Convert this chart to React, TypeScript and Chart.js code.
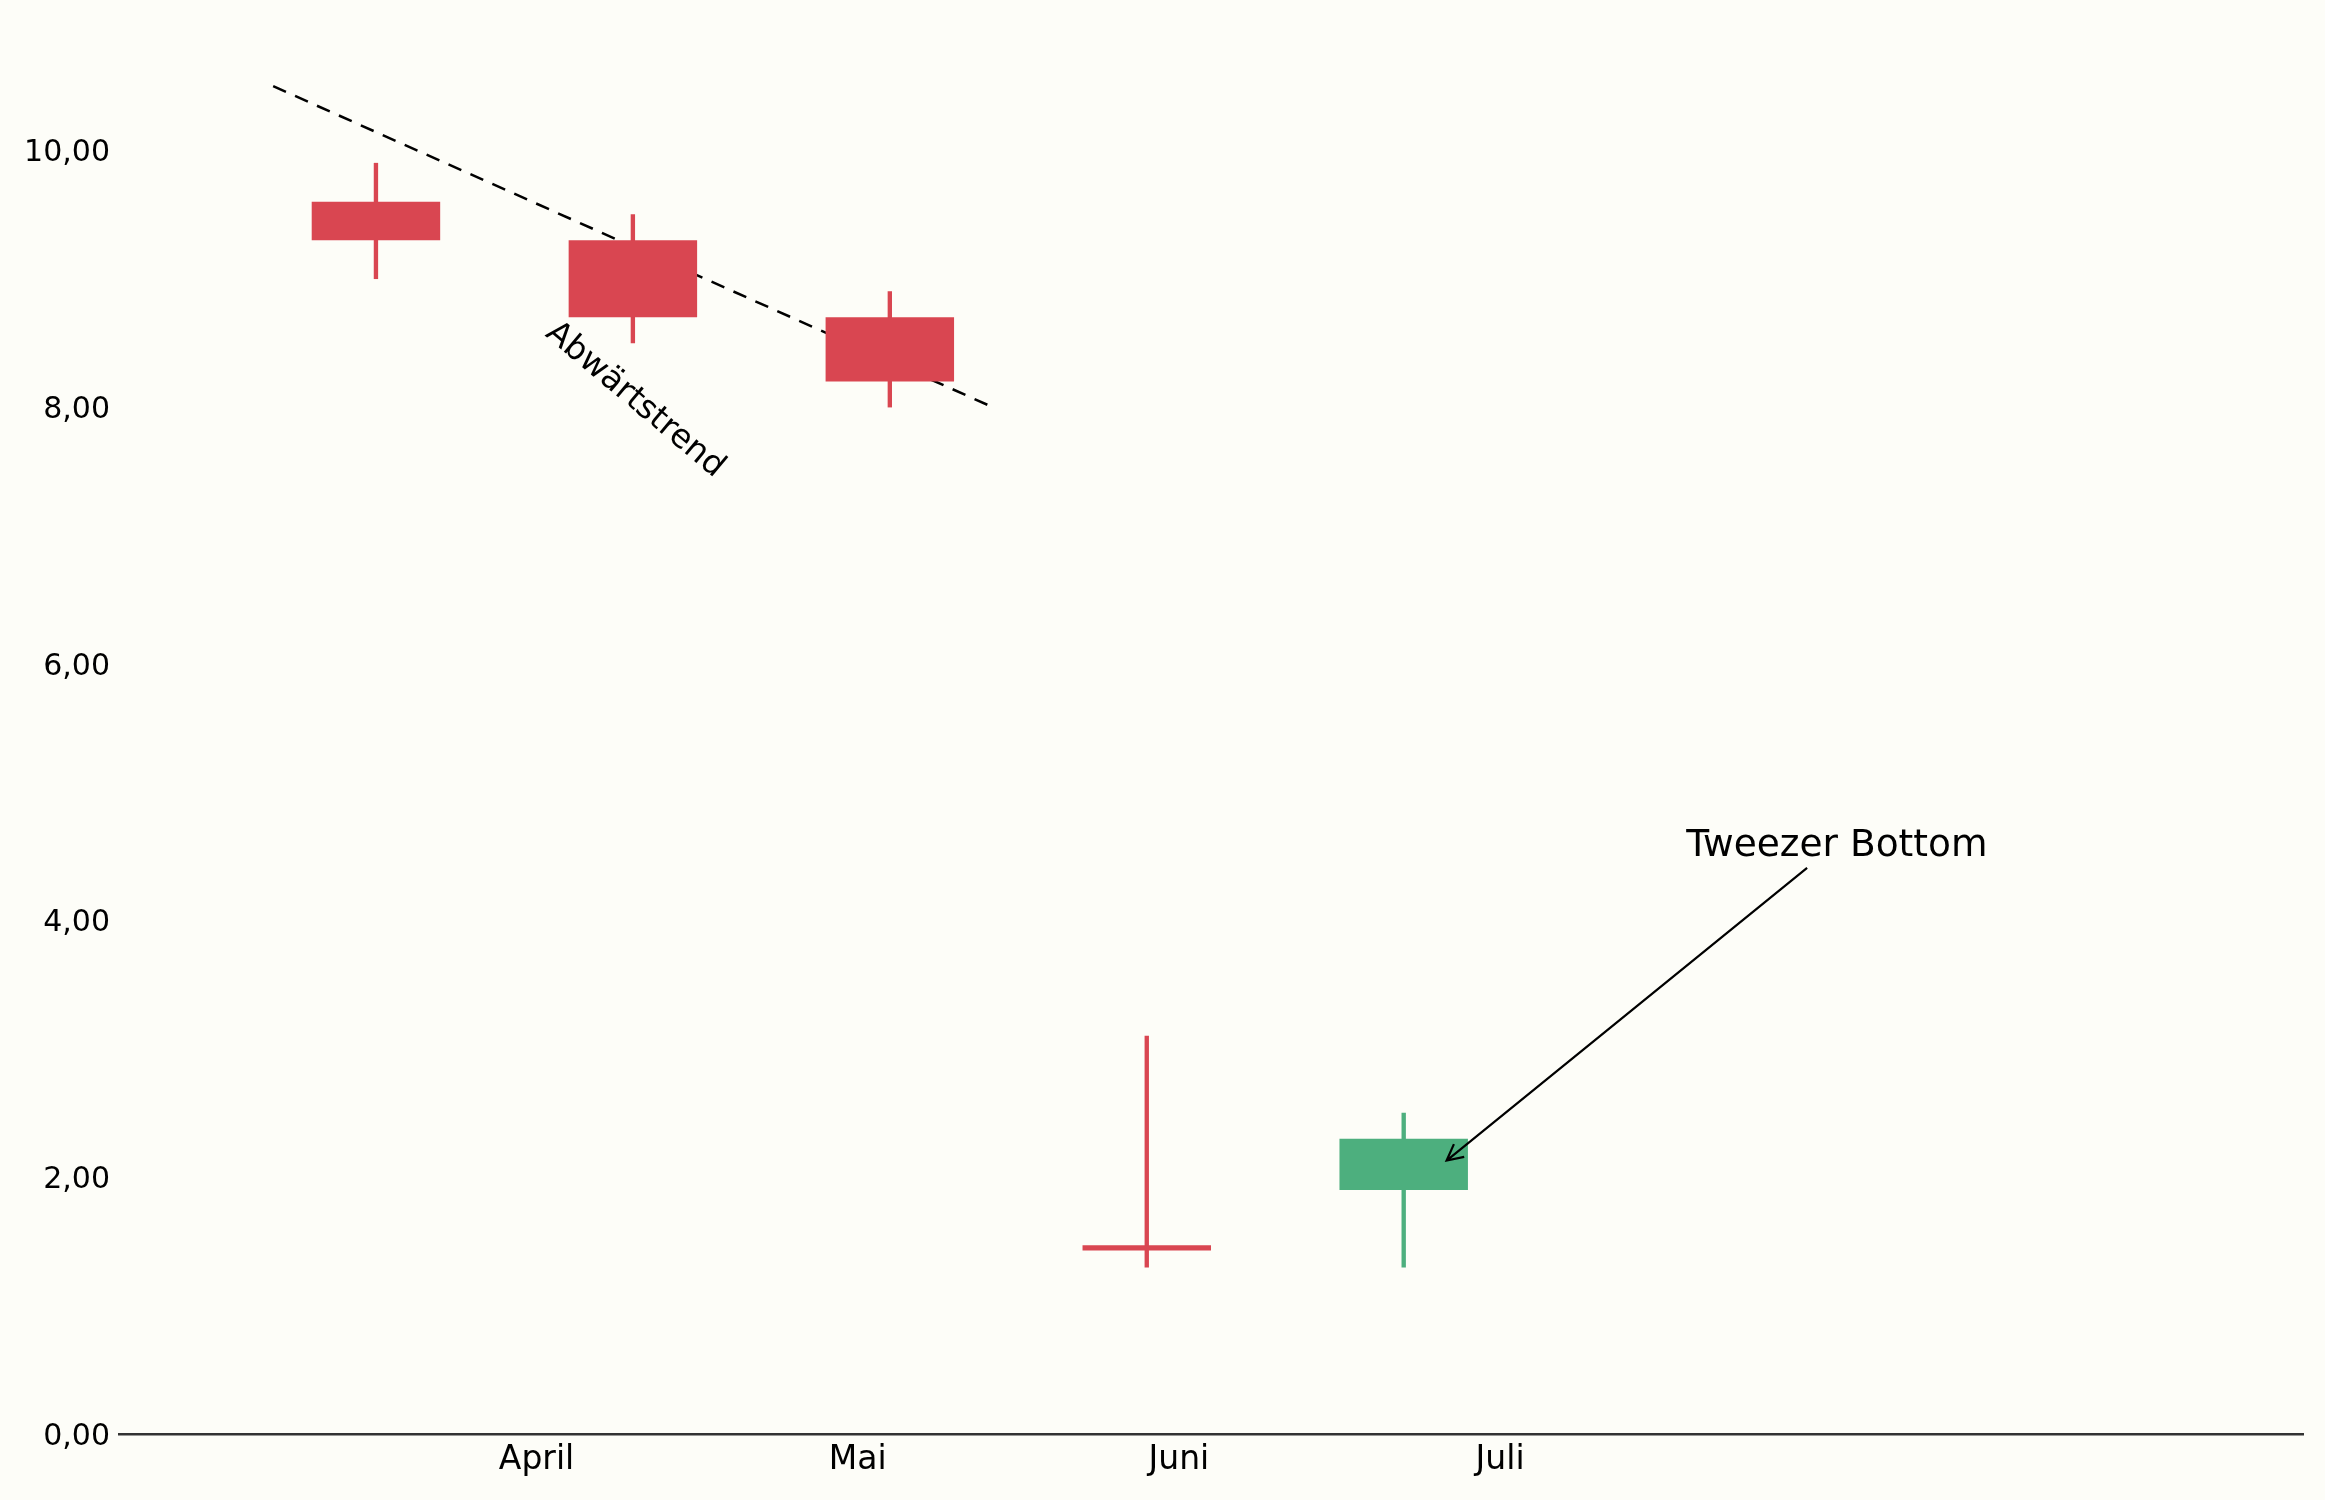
import { useEffect, useRef } from 'react'
import { Chart, registerables } from 'chart.js'

Chart.register(...registerables)

// candle positions (one unit per candle) and OHLC values
const candleX = [0, 1, 2, 3, 4]
const openValues = [9.6, 9.3, 8.7, 1.47, 1.9]
const closeValues = [9.3, 8.7, 8.2, 1.43, 2.3]
const highValues = [9.9, 9.5, 8.9, 3.1, 2.5]
const lowValues = [9.0, 8.5, 8.0, 1.3, 1.3]

// month ticks on the x axis
const monthTickPos = [0.625, 1.875, 3.125, 4.375]
const monthLabels = ['April', 'Mai', 'Juni', 'Juli']

const yTickValues = [0, 2, 4, 6, 8, 10]

// dashed trend line
const trendX = [-0.4, 2.4]
const trendY = [10.5, 8.0]

const RED = '#d94651'
const GREEN = '#4daf7e'
const BG = '#fdfdf8'
const FONT = '"DejaVu Sans", sans-serif'

const annotationPlugin = {
  id: 'annotations',
  beforeDraw(chart: Chart) {
    const { ctx, width, height } = chart
    ctx.save()
    ctx.fillStyle = BG
    ctx.fillRect(0, 0, width, height)
    ctx.restore()
  },
  afterDatasetsDraw(chart: Chart) {
    const { ctx } = chart
    const xs = chart.scales.x
    const ys = chart.scales.y
    ctx.save()
    ctx.fillStyle = '#000'
    ctx.textAlign = 'left'
    ctx.textBaseline = 'alphabetic'

    // rotated "Abwärtstrend"
    ctx.save()
    ctx.translate(xs.getPixelForValue(0.655), ys.getPixelForValue(8.56))
    ctx.rotate((40 * Math.PI) / 180)
    ctx.font = `33px ${FONT}`
    ctx.fillText('Abwärtstrend', 0, 0)
    ctx.restore()

    // "Tweezer Bottom" with arrow
    ctx.font = `37.5px ${FONT}`
    ctx.fillText('Tweezer Bottom', xs.getPixelForValue(5.1), ys.getPixelForValue(4.5))

    const sx = xs.getPixelForValue(5.57)
    const sy = ys.getPixelForValue(4.41)
    const tx = xs.getPixelForValue(4.167)
    const ty = ys.getPixelForValue(2.13)
    ctx.strokeStyle = '#000'
    ctx.lineWidth = 2.2
    ctx.beginPath()
    ctx.moveTo(sx, sy)
    ctx.lineTo(tx, ty)
    const ang = Math.atan2(sy - ty, sx - tx)
    const headLen = 18
    const spread = (27 * Math.PI) / 180
    ctx.moveTo(tx + headLen * Math.cos(ang + spread), ty + headLen * Math.sin(ang + spread))
    ctx.lineTo(tx, ty)
    ctx.lineTo(tx + headLen * Math.cos(ang - spread), ty + headLen * Math.sin(ang - spread))
    ctx.stroke()
    ctx.restore()
  },
}

function CandleChart() {
  const chartRef = useRef<HTMLCanvasElement>(null)
  const chartInstance = useRef<Chart | null>(null)

  useEffect(() => {
    if (!chartRef.current) return
    if (chartInstance.current) chartInstance.current.destroy()

    const colors = candleX.map((_, i) => (closeValues[i] < openValues[i] ? RED : GREEN))

    chartInstance.current = new Chart(chartRef.current, {
      type: 'bar',
      data: {
        datasets: [
          {
            type: 'bar',
            label: 'Körper',
            data: candleX.map((x, i) => ({ x, y: [openValues[i], closeValues[i]] })) as any,
            backgroundColor: colors,
            borderWidth: 0,
            grouped: false,
            categoryPercentage: 1,
            barPercentage: 0.5,
            order: 0,
          },
          {
            type: 'bar',
            label: 'Docht',
            data: candleX.map((x, i) => ({ x, y: [lowValues[i], highValues[i]] })) as any,
            backgroundColor: colors,
            borderWidth: 0,
            grouped: false,
            barThickness: 3.7,
            order: 1,
          },
          {
            type: 'line',
            label: 'Trend',
            data: trendX.map((x, i) => ({ x, y: trendY[i] })),
            borderColor: '#000',
            borderWidth: 2.5,
            borderDash: [14, 10],
            pointRadius: 0,
            fill: false,
            order: 2,
          },
        ],
      },
      options: {
        responsive: true,
        maintainAspectRatio: false,
        animation: false,
        events: [],
        layout: { padding: { top: 22, right: 22, left: 0, bottom: 0 } },
        plugins: {
          legend: { display: false },
          tooltip: { enabled: false },
        },
        scales: {
          x: {
            type: 'linear',
            min: -1,
            max: 7.5,
            offset: false,
            grid: { display: false, drawTicks: false, offset: false },
            border: { display: true, color: '#333', width: 2.5 },
            afterBuildTicks: (axis: any) => {
              axis.ticks = monthTickPos.map((v) => ({ value: v }))
            },
            afterFit: (axis: any) => {
              axis.height = 66
            },
            ticks: {
              color: '#000',
              font: { family: FONT, size: 33 },
              padding: 7,
              maxRotation: 0,
              autoSkip: false,
              callback: (_v: any, i: number) => monthLabels[i],
            },
          },
          y: {
            min: 0,
            max: 11,
            grid: { display: false, drawTicks: false },
            border: { display: false },
            afterBuildTicks: (axis: any) => {
              axis.ticks = yTickValues.map((v) => ({ value: v }))
            },
            afterFit: (axis: any) => {
              axis.width = 119
              axis.paddingTop = 0
              axis.paddingBottom = 0
            },
            ticks: {
              color: '#000',
              font: { family: FONT, size: 30 },
              padding: 9,
              labelOffset: 3,
              callback: (v: any) => Number(v).toFixed(2).replace('.', ','),
            },
          },
        },
      },
      plugins: [annotationPlugin],
    })

    return () => {
      if (chartInstance.current) {
        chartInstance.current.destroy()
        chartInstance.current = null
      }
    }
  }, [])

  return (
    <div style={{ position: 'fixed', left: 0, top: 0, width: 2325, height: 1500, background: BG }}>
      <canvas ref={chartRef} />
    </div>
  )
}

export default function App() {
  return <CandleChart />
}
